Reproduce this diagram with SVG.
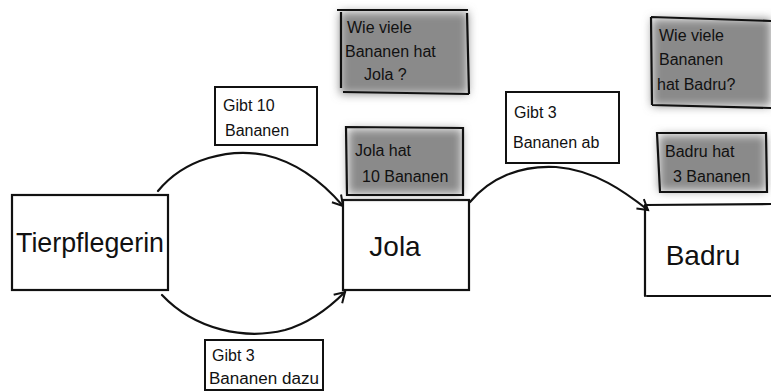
<svg xmlns="http://www.w3.org/2000/svg" width="771" height="392" viewBox="0 0 771 392">
<defs>
<style>
.box{fill:#fff;stroke:#111;stroke-width:2.2;stroke-linecap:round}
.note{fill:none;stroke:#111;stroke-width:2.2}
.shade{fill:#8a8a8a;filter:url(#blur)}
.lbl{fill:#fff;stroke:#111;stroke-width:2}
.t{font-family:"Liberation Sans","DejaVu Sans",sans-serif;fill:#111}
.big{font-size:28px}
.sm{font-size:16px}
.con{fill:none;stroke:#111;stroke-width:2.2;stroke-linecap:round}
</style>
<filter id="blur" x="-20%" y="-20%" width="140%" height="140%"><feGaussianBlur stdDeviation="5"/></filter>
<marker id="arr" markerWidth="16" markerHeight="16" refX="12" refY="8" orient="auto" markerUnits="userSpaceOnUse">
<path d="M2,2 L12,8 L2,14" fill="none" stroke="#111" stroke-width="2"/>
</marker>
</defs>
<rect width="771" height="392" fill="#fff"/>
<g id="connectors">
<path class="con" d="M158,191 C185,158 230,148 265,155 C300,163 325,185 343,206" marker-end="url(#arr)"/>
<path class="con" d="M162,295 C195,330 245,340 285,330 C310,323 330,307 345,292" marker-end="url(#arr)"/>
<path class="con" d="M470,202 C490,178 520,165 556,167 C595,170 625,192 648,210" marker-end="url(#arr)"/>
</g>
<g id="tierpflegerin">
<rect class="box" x="12" y="195" width="156" height="95"/>
<text class="t big" x="90" y="252" text-anchor="middle" textLength="148" lengthAdjust="spacingAndGlyphs">Tierpflegerin</text>
</g>
<g id="jola">
<rect class="box" x="343" y="200" width="126" height="90"/>
<text class="t big" x="395" y="256" text-anchor="middle">Jola</text>
</g>
<g id="badru">
<path class="box" d="M645,205 L645,296 M647,296 L771,296 M645,205 L771,204"/>
<text class="t big" x="703" y="265" text-anchor="middle">Badru</text>
</g>
<g id="frage-jola">
<rect class="shade" x="340" y="12" width="128" height="82"/>
<path class="note" d="M337,10 L468,10 M341,12 L341,88 M343,92 L469,94 M467,13 L469,94"/>
<text class="t sm" x="347" y="33">Wie viele</text>
<text class="t sm" x="345" y="57">Bananen hat</text>
<text class="t sm" x="364" y="80">Jola ?</text>
</g>
<g id="jola-hat">
<rect class="shade" x="348" y="129" width="114" height="65"/>
<path class="note" d="M346,127 L463,128 L463,195 L347,195 Z"/>
<text class="t sm" x="355" y="156">Jola hat</text>
<text class="t sm" x="362" y="182">10 Bananen</text>
</g>
<g id="frage-badru">
<rect class="shade" x="652" y="19" width="119" height="87"/>
<path class="note" d="M651,17 L771,21 M651,17 L652,105 M652,105 L771,108"/>
<text class="t sm" x="659" y="41">Wie viele</text>
<text class="t sm" x="659" y="65">Bananen</text>
<text class="t sm" x="657" y="90">hat Badru?</text>
</g>
<g id="badru-hat">
<rect class="shade" x="659" y="135" width="107" height="56"/>
<path class="note" d="M657,133 L766,133 L767,192 L660,192 Z"/>
<text class="t sm" x="665" y="157">Badru hat</text>
<text class="t sm" x="673" y="182">3 Bananen</text>
</g>
<g id="label-gibt10">
<rect class="lbl" x="215" y="87" width="102" height="58"/>
<text class="t sm" x="223" y="111">Gibt 10</text>
<text class="t sm" x="225" y="136">Bananen</text>
</g>
<g id="label-gibt3ab">
<rect class="lbl" x="506" y="92" width="113" height="71"/>
<text class="t sm" x="514" y="118">Gibt 3</text>
<text class="t sm" x="513" y="148">Bananen ab</text>
</g>
<g id="label-gibt3dazu">
<rect class="lbl" x="205" y="340" width="118" height="50"/>
<text class="t sm" x="212" y="361">Gibt 3</text>
<text class="t sm" x="209" y="384" textLength="110" lengthAdjust="spacingAndGlyphs">Bananen dazu</text>
</g>
</svg>
